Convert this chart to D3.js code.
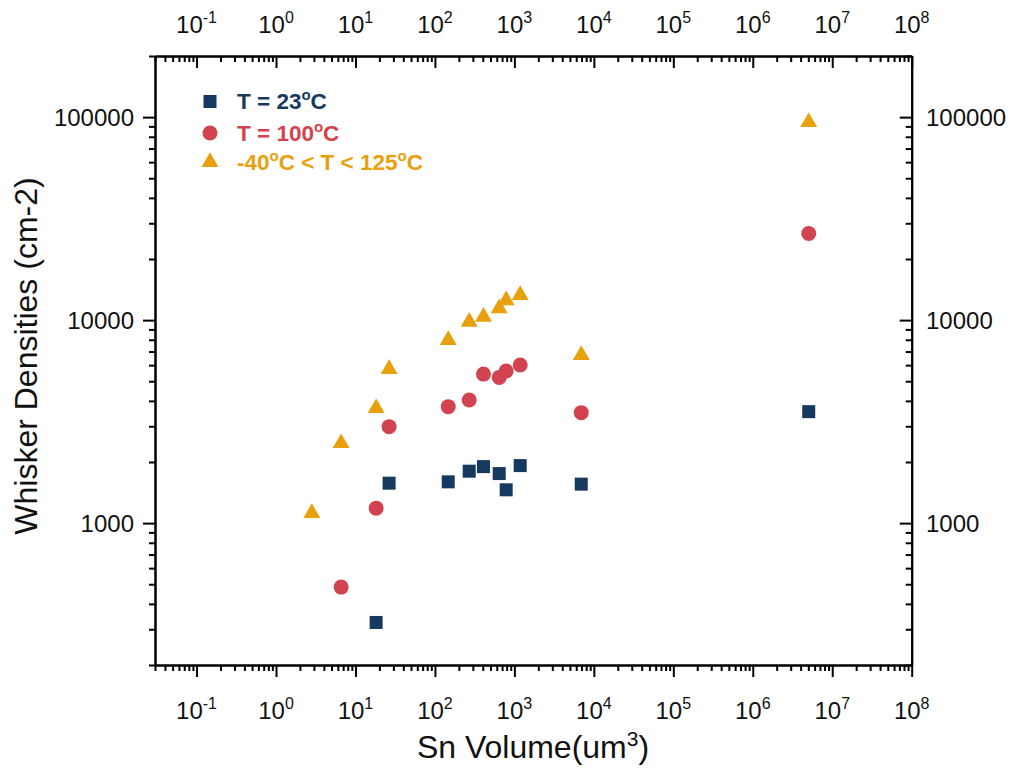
<!DOCTYPE html>
<html>
<head>
<meta charset="utf-8">
<script src="https://cdn.jsdelivr.net/npm/d3@7"></script>
<style>
  html, body { margin: 0; padding: 0; background: #fff; }
  svg { display: block; }
  text { font-family: "Liberation Sans", Arial, sans-serif; }
</style>
</head>
<body>
<svg id="chart" width="1015" height="770"></svg>
<script>
// ---- data ----
const volume23 = [18.2, 26.5, 147, 270, 408, 644, 788, 1183, 6940, 5.06e6];
const density23 = [324, 1573, 1597, 1802, 1898, 1754, 1459, 1920, 1556, 3540];
const volume100 = [6.6, 18.2, 26.5, 147, 270, 408, 644, 788, 1183, 6940, 5.06e6];
const density100 = [484, 1185, 2986, 3746, 4042, 5420, 5222, 5610, 6010, 3500, 26700];
const volumeCyc = [2.82, 6.6, 18.2, 26.5, 147, 270, 408, 644, 788, 1183, 6940, 5.06e6];
const densityCyc = [1120, 2475, 3681, 5740, 7973, 9808, 10380, 11420, 12530, 13270, 6730, 94400];
const xTickExponents = [-1, 0, 1, 2, 3, 4, 5, 6, 7, 8];
const yTickValues = [1000, 10000, 100000];
const yTickLabels = ["1000", "10000", "100000"];

const colors = { s23: "#163a5f", s100: "#d1444f", cyc: "#e8a00c" };

const svg = d3.select("#chart");
const pLeft = 155, pRight = 911.7, pTop = 56, pBottom = 665;

const x = d3.scaleLog().domain([0.03, 1e8]).range([pLeft, pRight]);
const y = d3.scaleLog().domain([200, 200000]).range([pBottom, pTop]);

// minor tick values (2..9 per decade)
const xMinor = [];
for (let e = -2; e <= 7; e++) for (let k = 2; k <= 9; k++) {
  const v = k * Math.pow(10, e);
  if (v >= 0.03 && v <= 1e8) xMinor.push(v);
}
const yMinor = [];
for (let e = 2; e <= 5; e++) for (let k = 2; k <= 9; k++) {
  const v = k * Math.pow(10, e);
  if (v >= 200 && v <= 200000) yMinor.push(v);
}
const xMajor = xTickExponents.map(e => Math.pow(10, e));

const axisStyle = g => {
  g.selectAll("path.domain").attr("stroke", "#000").attr("stroke-width", 2);
  g.selectAll(".tick line").attr("stroke", "#000").attr("stroke-width", 2);
};

// bottom axis
const gB = svg.append("g").attr("transform", `translate(0,${pBottom})`);
gB.append("g").call(d3.axisBottom(x).tickValues(xMinor).tickSize(6).tickFormat("").tickSizeOuter(0)).call(axisStyle);
gB.append("g").call(d3.axisBottom(x).tickValues(xMajor).tickSize(12).tickFormat("").tickSizeOuter(0)).call(axisStyle);
// top axis (ticks inward)
const gT = svg.append("g").attr("transform", `translate(0,${pTop})`);
gT.append("g").call(d3.axisBottom(x).tickValues(xMinor).tickSize(6).tickFormat("").tickSizeOuter(0)).call(axisStyle);
gT.append("g").call(d3.axisBottom(x).tickValues(xMajor).tickSize(12).tickFormat("").tickSizeOuter(0)).call(axisStyle);
// left axis
const gL = svg.append("g").attr("transform", `translate(${pLeft},0)`);
gL.append("g").call(d3.axisLeft(y).tickValues(yMinor).tickSize(6).tickFormat("").tickSizeOuter(0)).call(axisStyle);
gL.append("g").call(d3.axisLeft(y).tickValues(yTickValues).tickSize(12).tickFormat("").tickSizeOuter(0)).call(axisStyle);
// right axis (ticks inward)
const gR = svg.append("g").attr("transform", `translate(${pRight},0)`);
gR.append("g").call(d3.axisLeft(y).tickValues(yMinor).tickSize(6).tickFormat("").tickSizeOuter(0)).call(axisStyle);
gR.append("g").call(d3.axisLeft(y).tickValues(yTickValues).tickSize(12).tickFormat("").tickSizeOuter(0)).call(axisStyle);

// x tick labels with superscripts, bottom and top
function xLabels(yBase) {
  const g = svg.append("g");
  xTickExponents.forEach(e => {
    const t = g.append("text")
      .attr("x", x(Math.pow(10, e)))
      .attr("y", yBase)
      .attr("text-anchor", "middle")
      .attr("font-size", 24)
      .attr("fill", "#111");
    t.append("tspan").text("10");
    t.append("tspan").attr("font-size", 16).attr("dy", -10).text(String(e));
  });
}
xLabels(719);
xLabels(33);

// y tick labels
yTickValues.forEach((v, i) => {
  svg.append("text").attr("x", 134).attr("y", y(v)).attr("dy", "0.36em")
    .attr("text-anchor", "end").attr("font-size", 24).attr("fill", "#111").text(yTickLabels[i]);
  svg.append("text").attr("x", 926).attr("y", y(v)).attr("dy", "0.36em")
    .attr("text-anchor", "start").attr("font-size", 24).attr("fill", "#111").text(yTickLabels[i]);
});

// axis titles
const xt = svg.append("text").attr("x", 533).attr("y", 758)
  .attr("text-anchor", "middle").attr("font-size", 32).attr("fill", "#111");
xt.append("tspan").text("Sn Volume(um");
xt.append("tspan").attr("font-size", 21).attr("dy", -12).text("3");
xt.append("tspan").attr("dy", 12).text(")");

svg.append("text").attr("transform", `translate(37,356) rotate(-90)`)
  .attr("text-anchor", "middle").attr("font-size", 32).attr("fill", "#111")
  .text("Whisker Densities (cm-2)");

// markers
const plot = svg.append("g");
plot.selectAll("rect.s23").data(volume23.map((v, i) => [v, density23[i]])).enter()
  .append("rect").attr("class", "s23")
  .attr("x", d => x(d[0]) - 6.5).attr("y", d => y(d[1]) - 6.5)
  .attr("width", 13).attr("height", 13).attr("fill", colors.s23);
plot.selectAll("circle.s100").data(volume100.map((v, i) => [v, density100[i]])).enter()
  .append("circle").attr("class", "s100")
  .attr("cx", d => x(d[0])).attr("cy", d => y(d[1])).attr("r", 7.5).attr("fill", colors.s100);
const tri = d3.symbol().type(d3.symbolTriangle).size(125);
plot.selectAll("path.cyc").data(volumeCyc.map((v, i) => [v, densityCyc[i]])).enter()
  .append("path").attr("class", "cyc")
  .attr("transform", d => `translate(${x(d[0])},${y(d[1])})`)
  .attr("d", tri).attr("fill", colors.cyc);

// legend
const legendRows = [
  { y: 101.5, color: colors.s23, shape: "square", pre: "T = 23", mid: "", post: "C" },
  { y: 133, color: colors.s100, shape: "circle", pre: "T = 100", mid: "", post: "C" },
  { y: 162, color: colors.cyc, shape: "triangle", pre: "-40", mid: "C < T < 125", post: "C" }
];
legendRows.forEach(r => {
  if (r.shape === "square") svg.append("rect").attr("x", 210 - 6.5).attr("y", r.y - 6.5).attr("width", 13).attr("height", 13).attr("fill", r.color);
  if (r.shape === "circle") svg.append("circle").attr("cx", 210).attr("cy", r.y).attr("r", 7.5).attr("fill", r.color);
  if (r.shape === "triangle") svg.append("path").attr("transform", `translate(210,${r.y})`).attr("d", tri).attr("fill", r.color);
  const t = svg.append("text").attr("x", 237).attr("y", r.y + 7.5).attr("font-size", 22.5)
    .attr("font-weight", "bold").attr("fill", r.color);
  t.append("tspan").text(r.pre);
  t.append("tspan").attr("font-size", 15).attr("dy", -9).text("o");
  if (r.mid) {
    t.append("tspan").attr("dy", 9).text(r.mid);
    t.append("tspan").attr("font-size", 15).attr("dy", -9).text("o");
  }
  t.append("tspan").attr("dy", 9).text(r.post);
});
</script>
</body>
</html>
